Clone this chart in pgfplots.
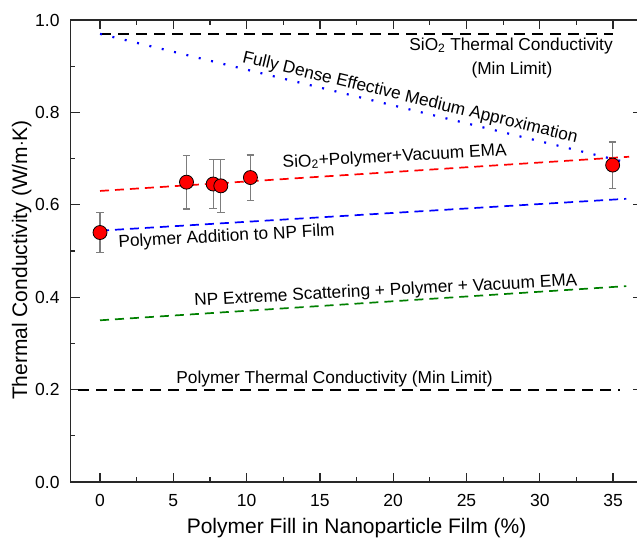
\documentclass[border=0pt]{standalone}
\usepackage{fontspec}
\setmainfont{Liberation Sans}
\usepackage{pgfplots}
\pgfplotsset{compat=1.18}
\definecolor{egreen}{RGB}{0,128,0}
\definecolor{errgray}{RGB}{125,125,125}
\definecolor{axgray}{RGB}{40,40,40}
\begin{document}
\begin{tikzpicture}
\begin{axis}[
  scale only axis,
  width=571.7pt, height=462pt,
  xmin=-2, xmax=37, ymin=0, ymax=1,
  xtick={0,5,10,15,20,25,30,35},
  ytick={0,0.2,0.4,0.6,0.8,1.0},
  minor x tick num=1, minor y tick num=1,
  tick align=inside,
  major tick length=9.3pt, minor tick length=4.7pt,
  axis line style={line width=1.2pt, axgray},
  every tick/.style={axgray, line width=1.2pt},
  /pgf/number format/assume math mode=true,
  xticklabel style={font=\fontsize{17.5}{19}\selectfont, inner sep=0pt, anchor=north, yshift=-12pt},
  yticklabel style={font=\fontsize{17.5}{19}\selectfont, inner sep=0pt, anchor=east, xshift=-11pt,
    /pgf/number format/.cd, fixed, fixed zerofill, precision=1},
  clip=false,
]
% reference limits
\addplot[black, line width=1.8pt, dash pattern=on 11pt off 7pt] coordinates {(0,0.97) (35,0.97)};
\addplot[black, line width=1.8pt, dash pattern=on 11pt off 7pt] coordinates {(-1.5,0.2) (35.5,0.2)};
% fully dense EMA
\addplot[blue, line width=2.2pt, dash pattern=on 2pt off 10.7pt] coordinates {(0,0.97) (35.5,0.695)};
% SiO2+Polymer+Vacuum EMA
\addplot[red, line width=1.7pt, dash pattern=on 9pt off 6pt] coordinates {(0,0.630) (36.1,0.704)};
% Polymer addition to NP film
\addplot[blue, line width=1.7pt, dash pattern=on 9pt off 6pt] coordinates {(0,0.544) (35.9,0.613)};
% NP extreme scattering
\addplot[egreen, line width=1.7pt, dash pattern=on 9pt off 6pt] coordinates {(0,0.350) (35.9,0.424)};
% measurements
\addplot[only marks, mark=*, mark size=7pt,
  mark options={fill=red, draw=black, line width=0.8pt},
  error bars/.cd, y dir=both, y explicit,
  error bar style={errgray, line width=1.3pt},
  error mark options={rotate=90, errgray, line width=1.3pt, mark size=3.7pt}]
  table[x=x, y=y, y error=e] {
x y e
0 0.540 0.043
5.9 0.649 0.058
7.72 0.645 0.053
8.24 0.641 0.057
10.26 0.659 0.049
34.97 0.686 0.050
};
\begin{scope}[every node/.style={font=\fontsize{17.3}{19}\selectfont, inner sep=0pt}]
\node at (axis cs:28.04,0.944) {SiO\textsubscript{2} Thermal Conductivity};
\node at (axis cs:28.1,0.892) {(Min Limit)};
\node[rotate=-13.5] at (axis cs:21.15,0.831) {Fully Dense Effective Medium Approximation};
\node[rotate=3.2] at (axis cs:20.1,0.703) {SiO\textsubscript{2}+Polymer+Vacuum EMA};
\node[rotate=3.2] at (axis cs:8.63,0.530) {Polymer Addition to NP Film};
\node[rotate=3.0] at (axis cs:19.5,0.413) {NP Extreme Scattering + Polymer + Vacuum EMA};
\node at (axis cs:16.0,0.223) {Polymer Thermal Conductivity (Min Limit)};
\end{scope}
\node[inner sep=0pt, anchor=center, yshift=-46pt, font=\fontsize{21}{23}\selectfont]
  at (rel axis cs:0.5,0) {Polymer Fill in Nanoparticle Film (\%)};
\node[inner sep=0pt, anchor=center, xshift=-49pt, rotate=90, font=\fontsize{21}{23}\selectfont]
  at (rel axis cs:0,0.4805) {Thermal Conductivity (W/m$\cdot$K)};
\end{axis}
\pgfresetboundingbox
\path (current axis.south west) ++(-70.7pt,-59pt) rectangle (current axis.south west) ++(566.3pt,482pt);
\end{tikzpicture}
\end{document}
